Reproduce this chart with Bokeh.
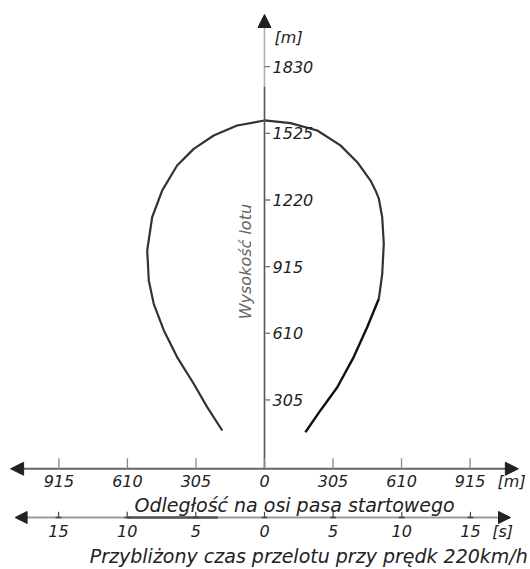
from math import pi

from bokeh.core.properties import value
from bokeh.embed import file_html
from bokeh.models import Arrow, NormalHead, Range1d
from bokeh.plotting import figure
from bokeh.resources import INLINE

# Circuit loop around the runway axis, metres.
# left branch, from its lower end up to the top of the loop
loop_left_x = [-188, -255, -315, -389, -448, -493, -515, -522, -500, -455,
               -389, -315, -226, -122, 0]
loop_left_y = [165, 272, 379, 501, 623, 745, 852, 989, 1141, 1264,
               1378, 1454, 1515, 1561, 1584]
# right branch, upper part (top of the loop down to the widest point and below)
loop_right_upper_x = [0, 116, 235, 338, 413, 472, 494, 509, 524, 531, 524, 509]
loop_right_upper_y = [1584, 1572, 1538, 1470, 1393, 1309, 1264, 1226, 1141, 1020, 882, 768]
# right branch, lower part (descending leg)
loop_right_lower_x = [509, 457, 397, 324, 249, 182]
loop_right_lower_y = [768, 638, 501, 363, 257, 157]

# Flight height scale (m)
height_ticks = [305, 610, 915, 1220, 1525, 1830]
height_labels = ["305", "610", "915", "1220", "1525", "1830"]

# Distance along the runway axis (m)
distance_ticks = [-915, -610, -305, 0, 305, 610, 915]
distance_labels = ["915", "610", "305", "0", "305", "610", "915"]

# Approximate flight time scale (s) at 220 km/h
speed_kmh = 220
time_ticks = [-15, -10, -5, 0, 5, 10, 15]
time_labels = ["15", "10", "5", "0", "5", "10", "15"]

INK = "#222222"
FONT = value("DejaVu Sans")

p = figure(
    width=530, height=569,
    x_range=Range1d(-1175, 1184), y_range=Range1d(-471, 2133),
    x_axis_type=None, y_axis_type=None,
    output_backend="svg", toolbar_location=None,
    min_border=0, min_border_left=0, min_border_right=0,
    min_border_top=0, min_border_bottom=0,
)
p.grid.visible = False
p.outline_line_color = None
p.background_fill_color = "white"
p.border_fill_color = "white"

# the loop
p.line(loop_left_x + loop_right_upper_x[1:], loop_left_y + loop_right_upper_y[1:],
       line_color="#333333", line_width=2.2, line_join="round")
p.line(loop_right_lower_x, loop_right_lower_y,
       line_color="#111111", line_width=2.4, line_join="round")


def label(x, y, text, size="16px", align="center", color=INK, angle=0.0):
    p.text(x=x, y=y, text=text, angle=angle,
           text_font=FONT, text_font_style="italic", text_font_size=size,
           text_align=align, text_baseline="middle", text_color=color)


# vertical (height) axis
p.segment(x0=[0], y0=[1739], x1=[0], y1=[-14], line_color="#555555", line_width=1.6)
p.segment(x0=[0], y0=[2010], x1=[0], y1=[1739], line_color="#b0b0b0", line_width=1.6)
p.add_layout(Arrow(end=NormalHead(size=13, fill_color=INK, line_color=INK),
                   x_start=0, y_start=1990, x_end=0, y_end=2069,
                   line_alpha=0))
p.segment(x0=[0] * len(height_ticks), y0=height_ticks,
          x1=[25] * len(height_ticks), y1=height_ticks,
          line_color="#777777", line_width=1.3)
label([36] * len(height_ticks), height_ticks, height_labels, align="left")
label([45], [1965], ["[m]"], align="left")
label([-85], [938], ["Wysokość lotu"], size="16px", color="#666666", angle=pi / 2)

# horizontal (distance) axis
axis_y = -10
p.segment(x0=[-1110], y0=[axis_y], x1=[1110], y1=[axis_y],
          line_color="#666666", line_width=2)
for xs, xe in [(-1050, -1130), (1050, 1130)]:
    p.add_layout(Arrow(end=NormalHead(size=13, fill_color=INK, line_color=INK),
                       x_start=xs, y_start=axis_y, x_end=xe, y_end=axis_y,
                       line_alpha=0))
p.segment(x0=distance_ticks, y0=[axis_y] * len(distance_ticks),
          x1=distance_ticks, y1=[axis_y + 48] * len(distance_ticks),
          line_color="#888888", line_width=1.3)
label(distance_ticks, [-66] * len(distance_ticks), distance_labels)
label([1100], [-66], ["[m]"])
label([134], [-178], ["Odległość na osi pasa startowego"], size="19px")

# time axis
speed_ms = speed_kmh / 3.6
time_x = [t * speed_ms for t in time_ticks]
time_y = -233
p.segment(x0=[-1100], y0=[time_y], x1=[1090], y1=[time_y],
          line_color="#9a9a9a", line_width=2)
p.segment(x0=[-10 * speed_ms], y0=[time_y], x1=[-3.4 * speed_ms], y1=[time_y],
          line_color="#555555", line_width=2.6)
for xs, xe in [(-1040, -1110), (1030, 1095)]:
    p.add_layout(Arrow(end=NormalHead(size=12, fill_color=INK, line_color=INK),
                       x_start=xs, y_start=time_y, x_end=xe, y_end=time_y,
                       line_alpha=0))
p.segment(x0=time_x, y0=[time_y] * len(time_x),
          x1=time_x, y1=[time_y + 26] * len(time_x),
          line_color="#444444", line_width=1.2)
p.segment(x0=[x - 13 for x in time_x], y0=[time_y] * len(time_x),
          x1=[x + 13 for x in time_x], y1=[time_y] * len(time_x),
          line_color="#444444", line_width=1.6)
label(time_x, [-297] * len(time_x), time_labels)
label([1060], [-297], ["[s]"])
label([1172], [-407], ["Przybliżony czas przelotu przy prędk 220km/h"],
      size="19px", align="right")

open("out.html", "w").write(file_html(p, INLINE))
